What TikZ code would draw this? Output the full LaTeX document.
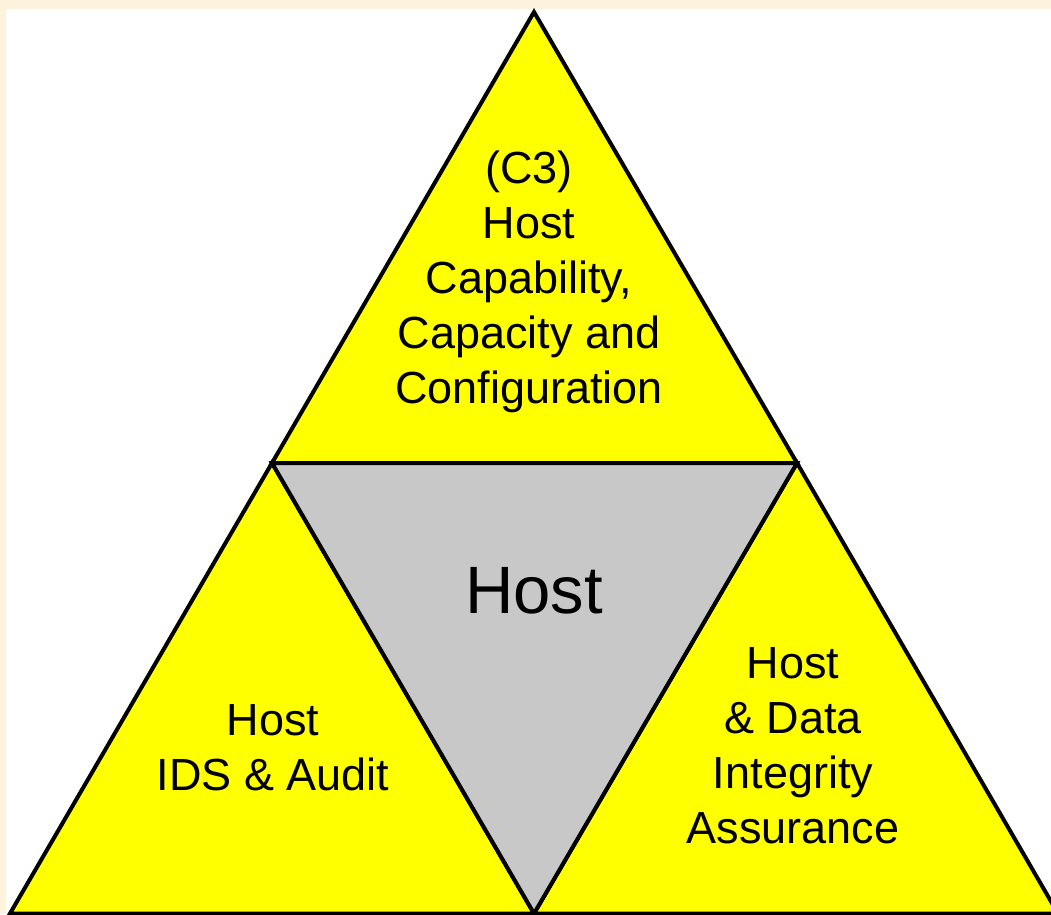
\documentclass[tikz,border=0pt]{standalone}
\usepackage{fontspec}
\setmainfont{Liberation Sans}
\definecolor{cream}{RGB}{253,242,220}
\definecolor{tyellow}{RGB}{255,255,0}
\definecolor{tgray}{RGB}{200,200,200}
\tikzset{
  tri/.style={draw=black, line width=4pt, line join=miter},
  lbl/.style={align=center, inner sep=0pt, anchor=base, font=\fontsize{45}{54.8}\selectfont},
  biglbl/.style={inner sep=0pt, anchor=base, font=\fontsize{67}{80}\selectfont}
}
\begin{document}
\begin{tikzpicture}[x=1pt,y=-1pt]
\useasboundingbox (0,0) rectangle (1051,914);
\fill[cream] (0,0) rectangle (1051,914);
\fill[white] (6,9) rectangle (1051,914);
\begin{scope}
\clip (0,0) rectangle (1051,914);
\coordinate (A) at (534,12);
\coordinate (L) at (272,463);
\coordinate (R) at (797,463);
\coordinate (BL) at (10,913.5);
\coordinate (BM) at (534,913.5);
\coordinate (BR) at (1058,913.5);
\filldraw[tri, fill=tyellow] (A) -- (L) -- (R) -- cycle;
\filldraw[tri, fill=tyellow] (L) -- (BL) -- (BM) -- cycle;
\filldraw[tri, fill=tyellow] (R) -- (BM) -- (BR) -- cycle;
\filldraw[tri, fill=tgray] (L) -- (R) -- (BM) -- cycle;
\end{scope}
\node[lbl] (top) at (529,403) {(C3)\\Host\\Capability,\\Capacity and\\Configuration};
\node[lbl] (left) at (273,790) {Host\\IDS \& Audit};
\node[lbl] (right) at (793,843) {Host\\\& Data\\Integrity\\Assurance};
\node[biglbl] (host) at (534,613) {Host};
\end{tikzpicture}
\end{document}
